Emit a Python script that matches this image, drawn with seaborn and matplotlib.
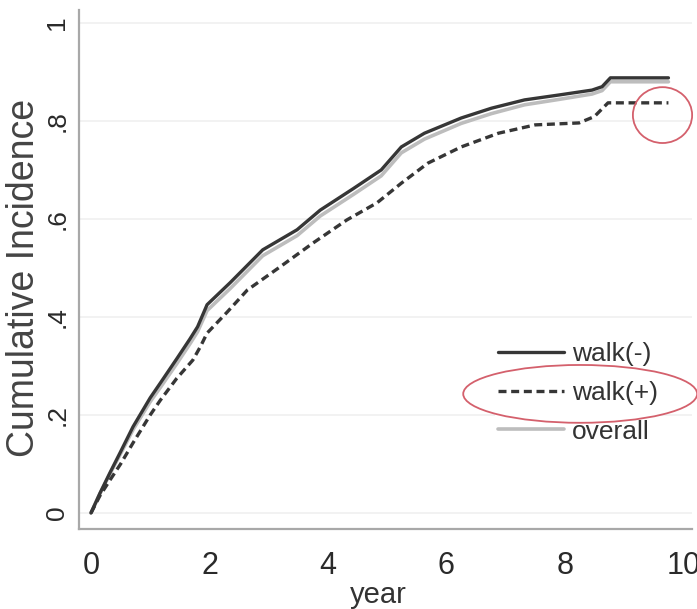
import matplotlib
matplotlib.use("Agg")
import matplotlib.pyplot as plt
from matplotlib.patches import Ellipse
import seaborn as sns
import pandas as pd

# ---- data ----
years = [0, 0.15, 0.32, 0.5, 0.71, 1.0, 1.17, 1.45, 1.67, 1.8, 1.96, 2.35, 2.9,
         3.48, 3.87, 4.43, 4.9, 5.24, 5.63, 6.25, 6.76, 7.32, 7.9, 8.46, 8.63,
         8.77, 9.75]
walk_minus = [0, 0.04, 0.082, 0.125, 0.176, 0.235, 0.265, 0.315, 0.355, 0.38,
              0.425, 0.47, 0.537, 0.578, 0.618, 0.662, 0.70, 0.747, 0.775,
              0.806, 0.826, 0.843, 0.853, 0.863, 0.87, 0.888, 0.888]
overall = [0, 0.039, 0.080, 0.121, 0.170, 0.227, 0.256, 0.305, 0.345, 0.370,
           0.413, 0.458, 0.525, 0.566, 0.606, 0.650, 0.688, 0.735, 0.763,
           0.795, 0.815, 0.833, 0.844, 0.855, 0.862, 0.880, 0.880]

years_plus = [0, 0.15, 0.32, 0.5, 0.71, 1.0, 1.17, 1.45, 1.72, 1.85, 1.96, 2.3,
              2.64, 3.19, 3.75, 4.32, 4.83, 5.24, 5.69, 6.25, 6.88, 7.5, 8.24,
              8.5, 8.73, 9.75]
walk_plus = [0, 0.035, 0.067, 0.10, 0.143, 0.20, 0.23, 0.275, 0.312, 0.34,
             0.367, 0.41, 0.455, 0.502, 0.551, 0.598, 0.633, 0.673, 0.714,
             0.747, 0.775, 0.792, 0.796, 0.809, 0.837, 0.837]

x_ticks = [0, 2, 4, 6, 8, 10]
y_ticks = [0, 0.2, 0.4, 0.6, 0.8, 1.0]
y_tick_labels = ["0", ".2", ".4", ".6", ".8", "1"]
labels = ["walk(-)", "walk(+)", "overall"]

# annotation ellipses (center x, center y, width, height) in data units
circle_end = (9.65, 0.812, 1.0, 0.114)
circle_legend = (8.26, 0.243, 3.95, 0.118)

# ---- style ----
sns.set_theme(style="white")
plt.rcParams["font.family"] = ["Liberation Sans", "DejaVu Sans"]

fig = plt.figure(figsize=(6.97, 6.09), dpi=100)
ax = fig.add_axes([0.1133, 0.1314, 0.993 - 0.1133, 0.9836 - 0.1314])

df_main = pd.DataFrame({"year": years, "walk(-)": walk_minus, "overall": overall})
df_plus = pd.DataFrame({"year": years_plus, "walk(+)": walk_plus})

dark = "#363636"
light = "#bdbdbd"

for yv in y_ticks:
    ax.axhline(yv, color="#f0f0f0", lw=1.2, zorder=0)

sns.lineplot(data=df_main, x="year", y="overall", ax=ax, color=light, lw=2.6,
             estimator=None, sort=False, label="overall", zorder=2)
sns.lineplot(data=df_main, x="year", y="walk(-)", ax=ax, color=dark, lw=2.4,
             estimator=None, sort=False, label="walk(-)", zorder=3)
sns.lineplot(data=df_plus, x="year", y="walk(+)", ax=ax, color=dark, lw=2.4,
             estimator=None, sort=False, label="walk(+)", zorder=3,
             linestyle=(0, (2.4, 1.4)))

ax.set_xlim(-0.203, 10.15)
ax.set_ylim(-0.0327, 1.0265)
ax.set_xticks(x_ticks)
ax.set_yticks(y_ticks)
ax.set_yticklabels(y_tick_labels)

for s in ["top", "right"]:
    ax.spines[s].set_visible(False)
for s in ["left", "bottom"]:
    ax.spines[s].set_color("#a8a8a8")
    ax.spines[s].set_linewidth(1.6)

ax.tick_params(axis="both", which="major", direction="out", length=4,
               width=1.2, color="#a8a8a8", colors="#2a2a2a")
ax.tick_params(axis="x", labelsize=22, pad=12)
ax.tick_params(axis="y", labelsize=19, pad=3)
for t in ax.get_yticklabels():
    t.set_rotation(90)
    t.set_va("center")
    t.set_ha("right")
ax.tick_params(axis="both", color="#a8a8a8")

ax.set_xlabel("year", fontsize=21, color="#333333", va="center")
ax.xaxis.set_label_coords(0.489, -0.127)
ax.set_ylabel("Cumulative Incidence", fontsize=27, color="#444444", va="center")
ax.yaxis.set_label_coords(-0.09, 0.484)

handles, labs = ax.get_legend_handles_labels()
hmap = dict(zip(labs, handles))
leg = ax.legend([hmap[l] for l in labels], labels, loc="center left",
                bbox_to_anchor=(0.6786, 0.262), frameon=True, facecolor="white",
                edgecolor="none", framealpha=1, handlelength=2.5,
                handletextpad=0.3, labelspacing=0.55, borderpad=0.1,
                borderaxespad=0,
                prop={"family": ["Liberation Sans", "DejaVu Sans"], "size": 19})
for txt in leg.get_texts():
    txt.set_color("#333333")
leg.set_zorder(5)

for (cx, cy, w, h) in [circle_end, circle_legend]:
    e = Ellipse((cx, cy), w, h, fill=False, edgecolor="#d4606c", lw=1.3,
                clip_on=False, zorder=6)
    ax.add_patch(e)

fig.savefig("out.png", dpi=100)
